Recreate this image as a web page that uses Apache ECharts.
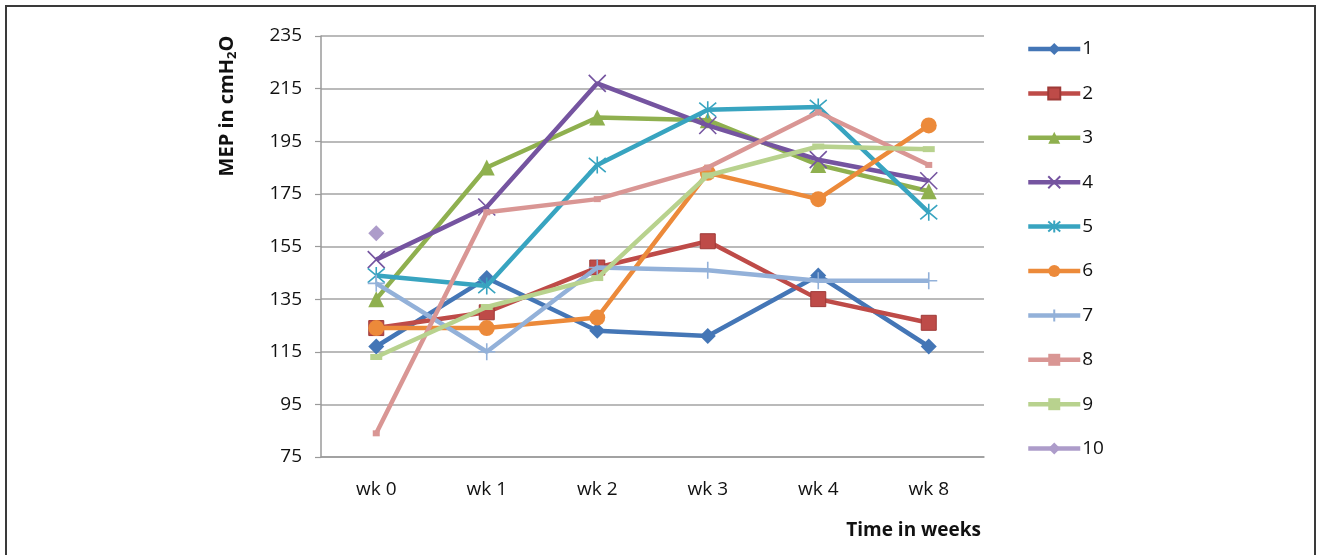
<!DOCTYPE html>
<html>
<head>
<meta charset="utf-8">
<script src="https://cdn.jsdelivr.net/npm/echarts@6/dist/echarts.min.js"></script>
<style>
  html, body { margin: 0; padding: 0; background: #fff; }
  #frame { position: absolute; left: 5px; top: 5px; width: 1311px; height: 600px; border: 2px solid #3a3a3a; border-bottom: none; box-sizing: border-box; }
  #chart { position: absolute; left: 0; top: 0; width: 1318px; height: 555px; }
</style>
</head>
<body>
<div id="frame"></div>
<div id="chart"></div>
<script>
const categories = ['wk 0', 'wk 1', 'wk 2', 'wk 3', 'wk 4', 'wk 8'];
const seriesNames = ['1', '2', '3', '4', '5', '6', '7', '8', '9', '10'];
const s1 = [117, 143, 123, 121, 144, 117];
const s2 = [124, 130, 147, 157, 135, 126];
const s3 = [135, 185, 204, 203, 186, 176];
const s4 = [150, 170, 217, 201, 188, 180];
const s5 = [144, 140, 186, 207, 208, 168];
const s6 = [124, 124, 128, 183, 173, 201];
const s7 = [141, 115, 147, 146, 142, 142];
const s8 = [84, 168, 173, 185, 206, 186];
const s9 = [113, 132, 143, 182, 193, 192];
const s10 = [160, null, null, null, null, null];
const yTicks = [75, 95, 115, 135, 155, 175, 195, 215, 235];

const colors = ['#4476b6', '#be4b48', '#8fb04f', '#7554a0', '#38a4c0', '#ec8a3a', '#93b1d9', '#d99694', '#b8d28e', '#ad9cca'];
const symbols = [
  'diamond', 'rect', 'triangle',
  'path://M0,0L10,10M10,0L0,10',
  'path://M0,0L10,10M10,0L0,10M5,-1L5,11',
  'circle',
  'path://M5,0L5,10M0,5L10,5',
  'rect', 'rect', 'diamond'
];
const sizes = [16, 15, 16, 17, 17, 16, 17, [7, 6], [12, 6], 16];
const stroked = [false, false, false, true, true, false, true, false, false, false];
const data = [s1, s2, s3, s4, s5, s6, s7, s8, s9, s10];

const FONT = '"Open Sans", Lato, sans-serif';

const series = data.map((d, i) => ({
  name: seriesNames[i],
  type: 'line',
  data: d,
  symbol: symbols[i],
  symbolSize: sizes[i],
  showSymbol: true,
  lineStyle: { color: colors[i], width: 4.5 },
  itemStyle: stroked[i]
    ? { color: 'rgba(0,0,0,0)', borderColor: colors[i], borderWidth: 1.6 }
    : { color: colors[i], borderColor: i === 1 ? '#9e3a37' : colors[i], borderWidth: i === 1 ? 1 : 0 },
  emphasis: { disabled: true },
  animation: false,
  z: 2 + i
}));

const chart = echarts.init(document.getElementById('chart'));
chart.setOption({
  animation: false,
  textStyle: { fontFamily: FONT },
  grid: { left: 321, right: 334, top: 36, bottom: 98, containLabel: false },
  xAxis: {
    type: 'category',
    data: categories,
    boundaryGap: true,
    axisLine: { show: true, lineStyle: { color: '#9a9a9a', width: 1.5 } },
    axisTick: { show: false },
    axisLabel: { color: '#111', fontSize: 19, margin: 23, fontFamily: FONT },
    splitLine: { show: false }
  },
  yAxis: {
    type: 'value',
    min: yTicks[0], max: yTicks[yTicks.length - 1], interval: yTicks[1] - yTicks[0],
    axisLine: { show: true, lineStyle: { color: '#9a9a9a', width: 1.5 } },
    axisTick: { show: true, length: 6, lineStyle: { color: '#9a9a9a', width: 1.2 } },
    axisLabel: { color: '#111', fontSize: 19, margin: 19, fontFamily: FONT },
    splitLine: { show: true, lineStyle: { color: '#a3a3a3', width: 1.5 } }
  },
  legend: {
    orient: 'vertical',
    left: 1026,
    top: 39,
    padding: 0,
    itemWidth: 52,
    itemHeight: 15,
    itemGap: 24.4,
    data: seriesNames,
    lineStyle: { width: 4.5 },
    textStyle: { color: '#111', fontSize: 19, fontFamily: FONT, lineHeight: 20, padding: [0, 0, 0, -3] },
    selectedMode: false
  },
  graphic: [
    {
      type: 'text',
      x: 227, y: 106,
      rotation: Math.PI / 2,
      style: {
        text: '{b|MEP in cmH}{s|2}{b|O}',
        align: 'center', verticalAlign: 'middle',
        rich: {
          b: { fontFamily: FONT, fontSize: 20, fontWeight: 'bold', fill: '#111', lineHeight: 26 },
          s: { fontFamily: FONT, fontSize: 13, fontWeight: 'bold', fill: '#111', padding: [10, 0, 0, 0] }
        }
      }
    },
    {
      type: 'text',
      x: 981, y: 531,
      style: {
        text: 'Time in weeks',
        align: 'right', verticalAlign: 'middle',
        fontFamily: FONT, fontSize: 19, fontWeight: 'bold', fill: '#111'
      }
    }
  ],
  series: series
});
</script>
</body>
</html>
